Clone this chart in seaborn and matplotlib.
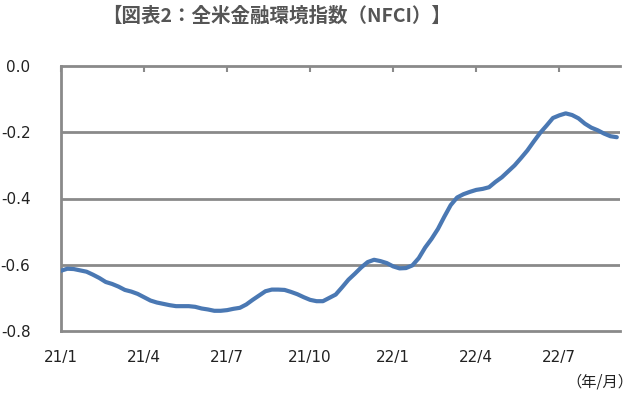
import matplotlib
matplotlib.use("Agg")
import matplotlib.pyplot as plt
import seaborn as sns
import pandas as pd

# Weekly NFCI values, Jan 2021 onward
nfci = [-0.618, -0.612, -0.613, -0.617, -0.621, -0.630, -0.640, -0.652, -0.658, -0.666,
        -0.676, -0.681, -0.688, -0.698, -0.708, -0.714, -0.718, -0.722, -0.725, -0.725,
        -0.725, -0.727, -0.732, -0.735, -0.739, -0.739, -0.737, -0.733, -0.730, -0.720,
        -0.706, -0.693, -0.680, -0.675, -0.675, -0.676, -0.682, -0.689, -0.698, -0.706,
        -0.710, -0.710, -0.700, -0.690, -0.668, -0.645, -0.627, -0.608, -0.592, -0.585,
        -0.589, -0.595, -0.605, -0.611, -0.610, -0.602, -0.580, -0.548, -0.522, -0.492,
        -0.455, -0.420, -0.397, -0.387, -0.380, -0.374, -0.371, -0.366, -0.350, -0.336,
        -0.318, -0.300, -0.278, -0.255, -0.228, -0.202, -0.180, -0.157, -0.149, -0.143,
        -0.148, -0.158, -0.174, -0.186, -0.194, -0.204, -0.212, -0.215]
week = list(range(len(nfci)))
tick_labels = ["21/1", "21/4", "21/7", "21/10", "22/1", "22/4", "22/7"]
tick_weeks = [0, 13, 26, 39, 52, 65, 78]
y_ticks = [-0.8, -0.6, -0.4, -0.2, 0.0]
y_labels = ["-0.8", "-0.6", "-0.4", "-0.2", "0.0"]

sns.set_style("white")
plt.rcParams['font.family'] = ['Noto Sans CJK JP', 'DejaVu Sans']

df = pd.DataFrame({"week": week, "nfci": nfci})

fig = plt.figure(figsize=(6.4, 3.97), dpi=100)
ax = fig.add_axes([61/640, 1-331/397, (620-61)/640, (331-66)/397])

grid_c = "#8a8a8a"
for v in [-0.6, -0.4, -0.2]:
    ax.axhline(v, color=grid_c, lw=2.0, zorder=1)

sns.lineplot(data=df, x="week", y="nfci", ax=ax, color="#4a78b3", lw=3.0, zorder=3)

ax.set_xlim(0, len(nfci) - 0.5)
ax.set_ylim(-0.8, 0.0)
ax.set_xticks(tick_weeks)
ax.set_xticklabels(tick_labels, family="DejaVu Sans")
ax.set_yticks(y_ticks)
ax.set_yticklabels(y_labels, family="DejaVu Sans")
ax.set_xlabel("")
ax.set_ylabel("")

for s in ["left", "top", "bottom"]:
    ax.spines[s].set_color(grid_c)
    ax.spines[s].set_linewidth(2.0)
ax.spines["right"].set_visible(False)

ax.tick_params(axis='x', which='both', top=True, bottom=False, labeltop=False,
               labelbottom=True, direction='in', length=4, width=1.5,
               color=grid_c, pad=14, labelsize=11, labelcolor="#222222")
ax.tick_params(axis='y', length=0, pad=22, labelsize=11, labelcolor="#222222")

fig.text(277/640, 1-16/397, "【図表2：全米金融環境指数（NFCI）】", ha="center", va="center",
         fontsize=14, fontweight="bold", color="#555555")
fig.text(633/640, 1-382/397, "（年/月）", ha="right", va="center", fontsize=11,
         color="#222222")

fig.savefig("out.png", dpi=100, facecolor="white")
